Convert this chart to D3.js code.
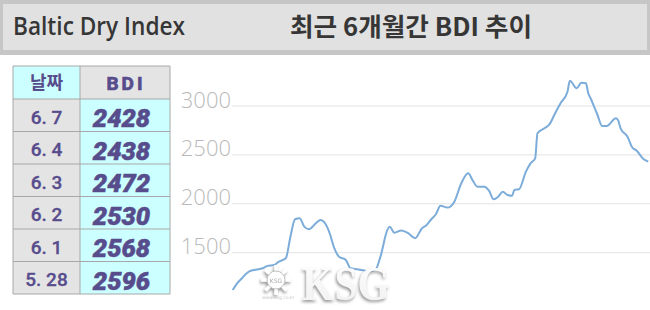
<!DOCTYPE html>
<html>
<head>
<meta charset="UTF-8">
<title>BDI</title>
<script src="https://cdn.jsdelivr.net/npm/d3@7"></script>
<style>
	body { margin: 0; background: #fff; }
	svg { display: block; }
</style>
</head>
<body>
	<div id="chart"></div>
	<script type="text/javascript">
		// table data
		var tableDates = ["6. 7", "6. 4", "6. 3", "6. 2", "6. 1", "5. 28"];
		var tableValues = [2428, 2438, 2472, 2530, 2568, 2596];

		// series (day offset, index value)
		var days = [0, 2, 4, 7, 11, 13, 15, 18, 20, 23, 25, 27, 29, 31, 33, 36, 38, 40, 42, 44,
			46, 49, 51, 54, 57, 59, 62, 64, 67, 68, 70, 73, 76, 79, 82, 84, 86, 88, 90, 93,
			96, 99, 102, 104, 106, 109, 111, 113, 115, 117, 119, 121, 122, 124, 127, 129, 131, 132, 135, 137,
			140, 142, 145, 146, 149, 151, 153, 154, 155, 158, 160, 162, 166, 167, 168, 171, 173, 175, 178, 180];
		var bdi = [1119, 1188, 1239, 1307, 1331, 1341, 1365, 1375, 1409, 1443, 1664, 1842, 1852, 1766, 1740, 1801, 1835, 1801, 1699, 1546,
			1460, 1426, 1341, 1331, 1317, 1307, 1331, 1460, 1733, 1766, 1705, 1726, 1699, 1648, 1750, 1784, 1842, 1893, 1981, 1961,
			2022, 2210, 2312, 2237, 2175, 2175, 2134, 2046, 2073, 2124, 2090, 2083, 2142, 2149, 2329, 2414, 2465, 2721, 2772, 2806,
			2942, 3028, 3146, 3259, 3181, 3238, 3232, 3130, 3079, 2908, 2796, 2796, 2874, 2850, 2772, 2686, 2578, 2543, 2455, 2431];
		var yTicks = [1500, 2000, 2500, 3000];

		var W = 650, H = 310;
		var textColor = "#574c8c";

		var svg = d3.select("#chart").append("svg").attr("width", W).attr("height", H);
		var defs = svg.append("defs");

		// header band
		svg.append("rect").attr("x", 0).attr("y", 0).attr("width", W).attr("height", 55).attr("fill", "#c6c6c6");
		svg.append("rect").attr("x", 3).attr("y", 4).attr("width", 644).attr("height", 46).attr("fill", "#e1e1e1");
		svg.append("text").attr("x", 13).attr("y", 35).attr("font-family", "Open Sans").attr("font-weight", 600)
			.attr("font-size", 25).attr("fill", "#363636").attr("textLength", 172).attr("lengthAdjust", "spacingAndGlyphs")
			.text("Baltic Dry Index");
		svg.append("text").attr("x", 290).attr("y", 36).attr("font-family", "Noto Sans CJK KR").attr("font-weight", 700)
			.attr("font-size", 25).attr("fill", "#363636").attr("textLength", 242).attr("lengthAdjust", "spacingAndGlyphs")
			.text("최근 6개월간 BDI 추이");

		// table
		var tbl = { x0: 13, x1: 80, x2: 170, top: 66, head: 33, row: 32.5 };
		var g = svg.append("g");
		g.append("rect").attr("x", tbl.x0).attr("y", tbl.top).attr("width", tbl.x1 - tbl.x0).attr("height", tbl.head).attr("fill", "#ccffff");
		g.append("rect").attr("x", tbl.x1).attr("y", tbl.top).attr("width", tbl.x2 - tbl.x1).attr("height", tbl.head).attr("fill", "#e4e4e4");
		g.append("text").attr("x", (tbl.x0 + tbl.x1) / 2).attr("y", tbl.top + 23).attr("text-anchor", "middle")
			.attr("font-family", "Noto Sans CJK KR").attr("font-weight", 700).attr("font-size", 18).attr("fill", textColor).text("날짜");
		g.append("text").attr("x", (tbl.x1 + tbl.x2) / 2 + 1).attr("y", tbl.top + 24).attr("text-anchor", "middle")
			.attr("font-family", "Roboto").attr("font-weight", 700).attr("font-size", 19).attr("letter-spacing", 3)
			.attr("fill", textColor).attr("stroke", textColor).attr("stroke-width", 0.7).text("BDI");

		var rows = g.selectAll(".row").data(tableDates).enter().append("g").attr("class", "row")
			.attr("transform", function(d, i) { return "translate(0," + (tbl.top + tbl.head + i * tbl.row) + ")"; });
		rows.append("rect").attr("x", tbl.x0).attr("width", tbl.x1 - tbl.x0).attr("height", tbl.row).attr("fill", "#e4e4e4");
		rows.append("rect").attr("x", tbl.x1).attr("width", tbl.x2 - tbl.x1).attr("height", tbl.row).attr("fill", "#ccffff");
		rows.append("text").attr("x", (tbl.x0 + tbl.x1) / 2).attr("y", 24.5).attr("text-anchor", "middle")
			.attr("font-family", "Roboto").attr("font-weight", 500).attr("font-size", 19).attr("fill", textColor)
			.attr("stroke", textColor).attr("stroke-width", 0.3)
			.text(function(d) { return d; });
		rows.append("text").attr("x", (tbl.x1 + tbl.x2) / 2 - 3.5).attr("y", 28).attr("text-anchor", "middle")
			.attr("font-family", "Roboto").attr("font-weight", 900).attr("font-style", "italic").attr("font-size", 25.5)
			.attr("fill", textColor).attr("stroke", textColor).attr("stroke-width", 0.5)
			.text(function(d, i) { return tableValues[i]; });

		// table lines
		var tblBottom = tbl.top + tbl.head + tableDates.length * tbl.row;
		var hLines = [tbl.top, tbl.top + tbl.head].concat(tableDates.map(function(d, i) { return tbl.top + tbl.head + (i + 1) * tbl.row; }));
		g.selectAll(".hl").data(hLines).enter().append("line")
			.attr("x1", tbl.x0).attr("x2", tbl.x2).attr("y1", function(d) { return d; }).attr("y2", function(d) { return d; })
			.attr("stroke", "#a8a8a8").attr("stroke-width", 1);
		g.selectAll(".vl").data([tbl.x0, tbl.x1, tbl.x2]).enter().append("line")
			.attr("x1", function(d) { return d; }).attr("x2", function(d) { return d; }).attr("y1", tbl.top).attr("y2", tblBottom)
			.attr("stroke", "#a8a8a8").attr("stroke-width", 1);

		// chart
		var x = d3.scaleLinear().domain([0, 180]).range([232.7, 648.3]);
		var y = d3.scaleLinear().domain([1000, 3000]).range([301.6, 106]);

		var grid = svg.append("g");
		grid.selectAll("line").data(yTicks).enter().append("line")
			.attr("x1", 232).attr("x2", W).attr("y1", function(d) { return y(d); }).attr("y2", function(d) { return y(d); })
			.attr("stroke", "#e3e3e3").attr("stroke-width", 1);
		grid.selectAll("text").data(yTicks).enter().append("text")
			.attr("x", 231).attr("y", function(d) { return y(d) + 1.5; }).attr("text-anchor", "end")
			.attr("font-family", "Open Sans").attr("font-weight", 300).attr("font-size", 22).attr("fill", "#bababa")
			.text(function(d) { return d; });

		var pts = days.map(function(d, i) { return [d, bdi[i]]; });
		svg.append("path").datum(pts).attr("fill", "none").attr("stroke", "#7cacd9").attr("stroke-width", 2)
			.attr("d", d3.line().curve(d3.curveMonotoneX).x(function(d) { return x(d[0]); }).y(function(d) { return y(d[1]); }));

		// watermark
		var grad = defs.append("linearGradient").attr("id", "wmfill").attr("x1", 0).attr("y1", 0).attr("x2", 0).attr("y2", 1);
		grad.append("stop").attr("offset", "0%").attr("stop-color", "#ffffff");
		grad.append("stop").attr("offset", "100%").attr("stop-color", "#f0f0f0");
		var f = defs.append("filter").attr("id", "shade").attr("x", "-20%").attr("y", "-20%").attr("width", "140%").attr("height", "140%");
		f.append("feGaussianBlur").attr("in", "SourceAlpha").attr("stdDeviation", 1.8).attr("result", "b");
		f.append("feOffset").attr("in", "b").attr("dx", -1.5).attr("dy", 1.5).attr("result", "o");
		f.append("feFlood").attr("flood-color", "#8c8c8c").attr("flood-opacity", 0.9);
		f.append("feComposite").attr("in2", "o").attr("operator", "in").attr("result", "s");
		var fm = f.append("feMerge");
		fm.append("feMergeNode").attr("in", "s");
		fm.append("feMergeNode").attr("in", "SourceGraphic");

		var wm = svg.append("g").attr("filter", "url(#shade)");
		wm.append("text").attr("x", 302).attr("y", 300).attr("font-family", "Liberation Serif").attr("font-weight", 700)
			.attr("font-size", 48).attr("fill", "url(#wmfill)").attr("textLength", 88).attr("lengthAdjust", "spacingAndGlyphs").text("KSG");
		var logo = wm.append("g").attr("transform", "translate(276,280)");
		d3.range(8).forEach(function(k) {
			var a = k * Math.PI / 4;
			logo.append("line").attr("x1", 0).attr("y1", 0).attr("x2", 15 * Math.cos(a)).attr("y2", 15 * Math.sin(a))
				.attr("stroke", "#ffffff").attr("stroke-width", 3.5);
		});
		logo.append("circle").attr("r", 9).attr("fill", "#ffffff").attr("stroke", "#c0c0c0").attr("stroke-width", 1);
		logo.append("text").attr("y", 2.5).attr("text-anchor", "middle").attr("font-family", "DejaVu Sans").attr("font-size", 6)
			.attr("fill", "#a8a8a8").text("KSG");
		svg.append("text").attr("x", 262).attr("y", 299).attr("font-family", "DejaVu Sans").attr("font-size", 4.5)
			.attr("fill", "#c8c8c8").text("www.ksg.co.kr");
	</script>
</body>
</html>
